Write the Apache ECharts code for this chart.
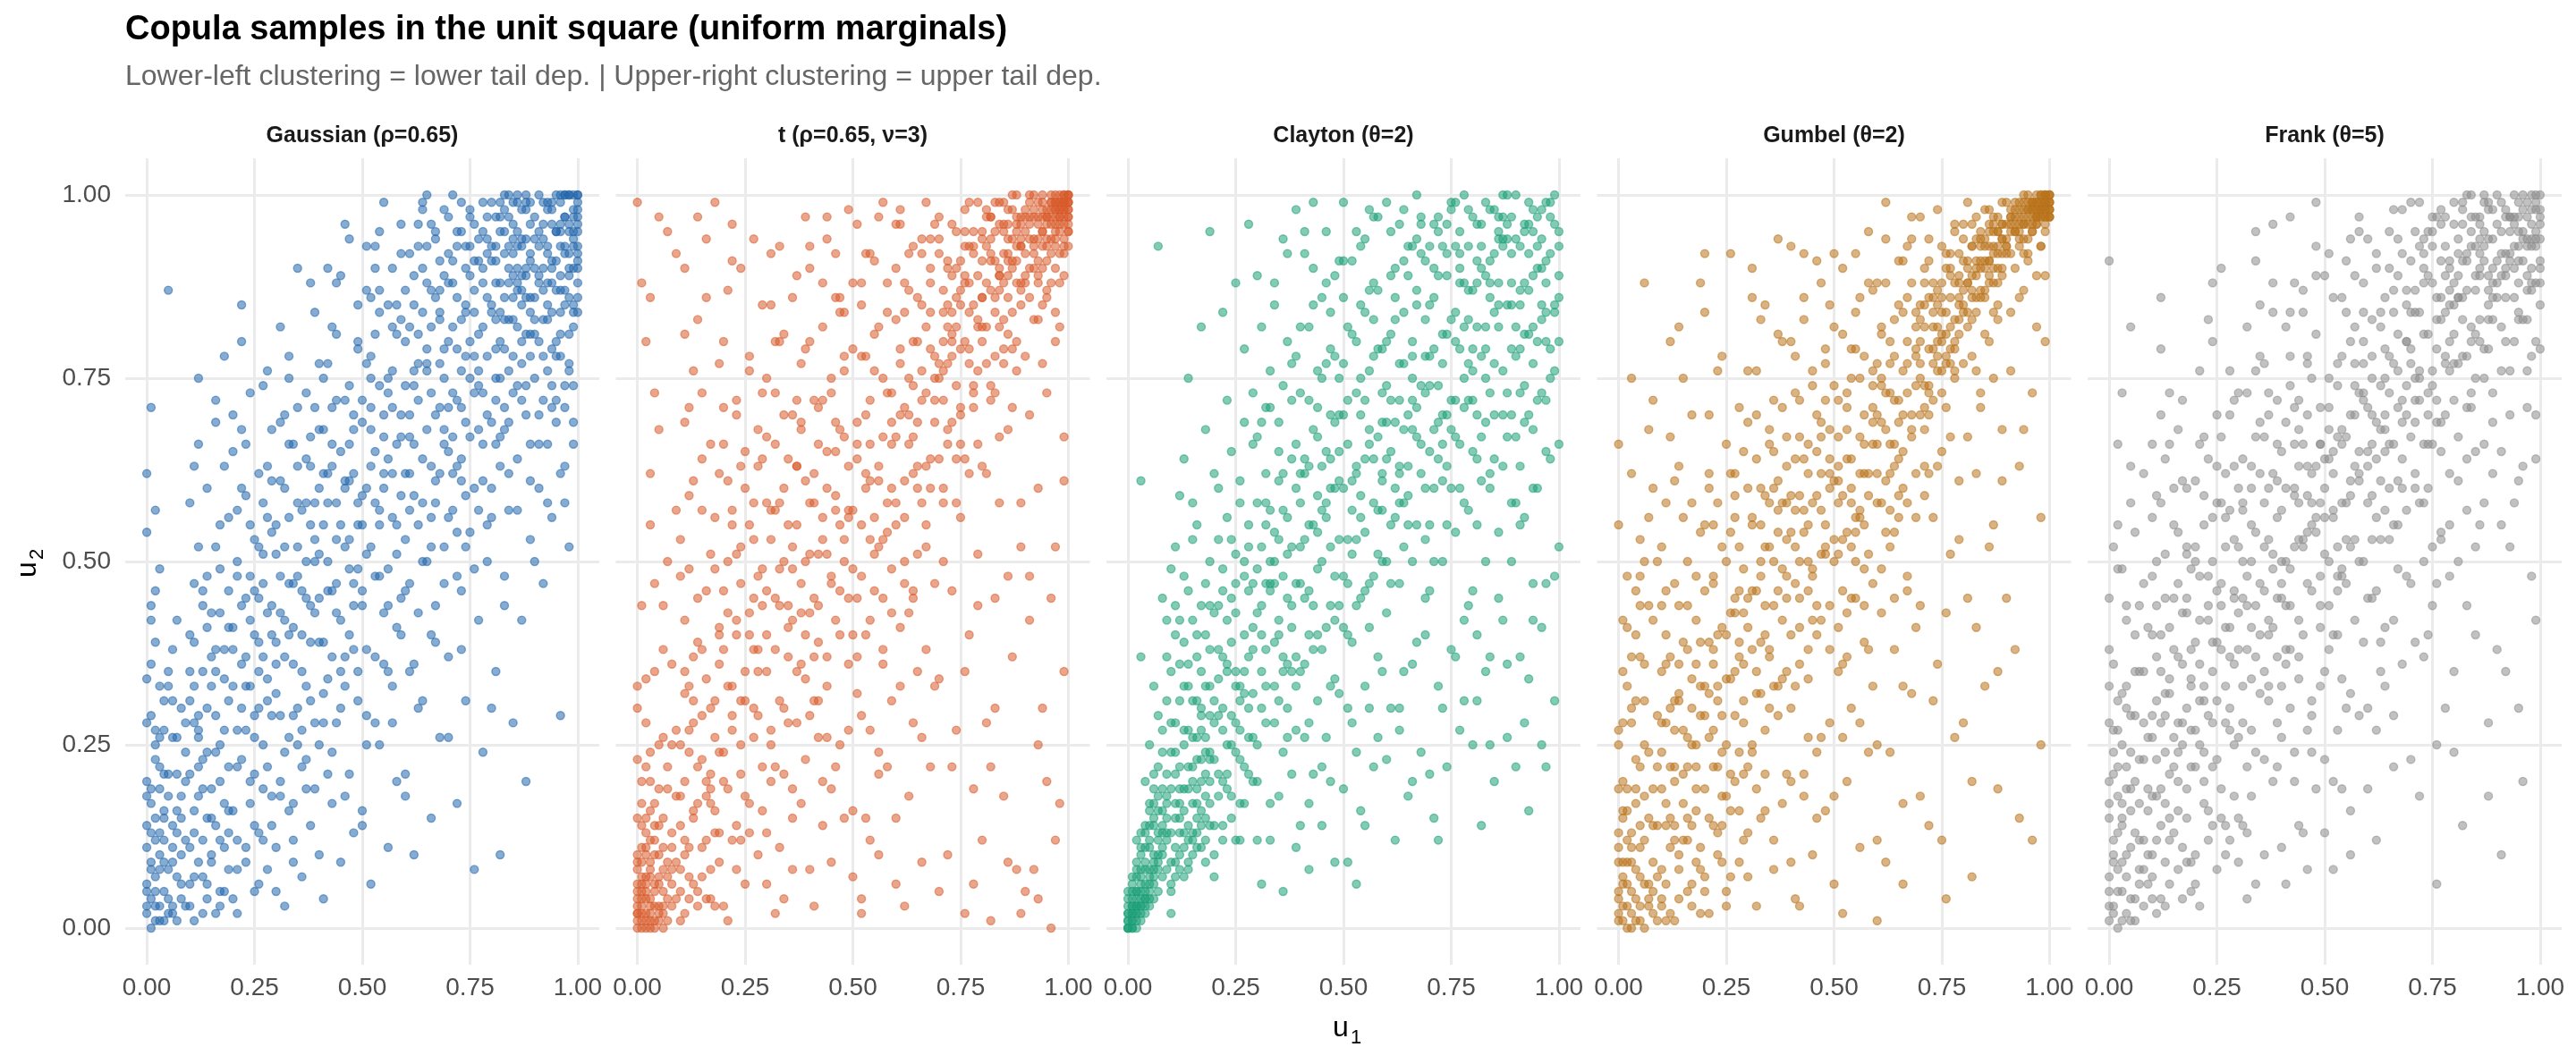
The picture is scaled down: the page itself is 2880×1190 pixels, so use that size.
<!DOCTYPE html>
<html><head><meta charset="utf-8">
<script src="https://cdn.jsdelivr.net/npm/echarts@6/dist/echarts.min.js"></script>
<style>html,body{margin:0;padding:0;background:#fff}#c{width:2880px;height:1190px}</style>
</head><body><div id="c"></div>
<script>
// Values are u1,u2 pairs in hundredths (0..100).
const gaussian = [
[1,0],[0,2],[2,1],[1,4],[3,3],[0,6],[2,7],[4,5],[1,9],[3,10],[5,8],[2,12],[0,14],[6,11],[4,15],[1,17],[7,13],[3,19],[5,21],[2,23],[8,18],[6,26],[0,28],[4,31],[9,24],[1,36],[7,42],[2,46],[0,54],[1,71],[5,87],[3,33],[6,3],[8,6],
[11,1],[14,4],[10,6],[17,3],[12,9],[19,8],[13,12],[16,14],[11,16],[18,11],[15,19],[10,21],[13,23],[17,25],[12,27],[19,22],[14,30],[11,33],[16,35],[18,38],[10,40],[15,43],[13,46],[17,49],[12,52],[19,56],[14,60],[11,63],[16,72],[18,78],
[21,2],[25,5],[28,8],[23,11],[26,13],[20,16],[29,18],[24,20],[22,23],[27,25],[21,27],[25,29],[28,31],[23,33],[26,35],[20,38],[29,40],[24,42],[22,44],[27,47],[21,50],[25,53],[28,56],[23,59],[26,62],[20,65],[29,68],[24,73],[22,80],[27,37],
[32,3],[36,7],[30,11],[38,14],[34,17],[31,20],[37,23],[33,26],[39,28],[35,30],[30,32],[36,35],[32,37],[38,39],[34,41],[31,43],[37,45],[33,47],[39,50],[35,52],[30,55],[36,57],[32,60],[38,63],[34,66],[31,69],[37,73],[33,78],[39,84],[35,90],
[41,4],[45,9],[48,13],[43,17],[47,21],[40,25],[44,28],[49,31],[42,34],[46,37],[41,39],[45,42],[48,44],[43,46],[47,49],[40,51],[44,53],[49,55],[42,58],[46,60],[41,62],[45,65],[48,68],[43,71],[47,74],[40,77],[44,81],[49,85],[42,90],[46,96],
[52,6],[56,11],[50,16],[58,20],[54,25],[51,29],[57,33],[53,37],[59,40],[55,43],[50,46],[56,49],[52,52],[58,55],[54,57],[51,60],[57,62],[53,65],[59,67],[55,70],[50,72],[56,75],[52,78],[58,81],[54,84],[51,87],[57,90],[53,93],[59,96],[55,99],
[62,10],[66,15],[60,21],[68,26],[64,31],[61,35],[67,39],[63,43],[69,47],[65,50],[60,53],[66,56],[62,59],[68,62],[64,64],[61,67],[67,70],[63,72],[69,75],[65,77],[60,80],[66,82],[62,85],[68,87],[64,90],[61,92],[67,94],[63,96],[69,98],[65,100],
[76,8],[72,17],[78,24],[74,31],[70,37],[77,42],[73,46],[79,50],[75,54],[71,57],[76,60],[72,63],[78,66],[74,69],[70,71],[77,74],[73,76],[79,78],[75,80],[71,82],[76,84],[72,86],[78,88],[74,90],[70,92],[77,94],[73,95],[79,97],[75,98],[71,100],
[82,10],[88,20],[85,28],[81,35],[87,42],[83,48],[89,53],[84,57],[80,60],[86,64],[82,67],[88,70],[85,73],[81,75],[87,77],[83,79],[89,81],[84,83],[80,85],[86,87],[82,88],[88,90],[85,92],[81,93],[87,94],[83,95],[89,96],[84,97],[86,99],[88,100],
[96,29],[92,47],[98,52],[94,56],[91,60],[97,63],[93,66],[99,69],[95,72],[90,75],[98,77],[94,79],[96,81],[92,83],[99,85],[97,87],[93,88],[100,90],[95,91],[98,92],[91,93],[99,94],[96,95],[100,96],[97,97],[94,98],[100,99],[98,100],[99,98],[100,100],
[0,3],[2,5],[1,8],[3,1],[4,9],[0,11],[2,15],[5,4],[1,19],[3,13],[6,2],[0,20],[7,7],[2,25],[4,16],[1,29],[8,10],[5,18],[3,22],[6,14],[0,34],[9,3],[2,39],[7,21],[4,27],[1,44],[8,30],[5,33],[3,49],[6,38],[9,12],[0,62],[2,57],[4,1],[7,26],
[10,3],[13,7],[16,2],[12,18],[18,5],[11,13],[15,10],[19,16],[14,24],[17,20],[10,31],[12,26],[16,29],[18,34],[11,39],[13,44],[15,37],[19,41],[14,48],[17,55],[10,58],[12,66],[16,52],[18,63],[11,28],[15,15],[19,46],[13,35],[17,12],[14,6],[16,69],[12,75],
[20,4],[23,9],[26,6],[29,14],[21,22],[24,17],[27,19],[22,30],[25,26],[28,34],[20,41],[23,37],[26,45],[29,29],[21,48],[24,55],[27,51],[22,60],[25,46],[28,63],[20,70],[23,66],[26,39],[29,54],[21,12],[24,33],[27,74],[22,85],[25,21],[28,43],
[30,5],[33,16],[36,22],[39,19],[31,29],[34,36],[37,33],[32,42],[35,48],[38,44],[30,51],[33,56],[36,40],[39,58],[31,61],[34,47],[37,64],[32,70],[35,58],[38,67],[30,36],[33,75],[36,27],[39,53],[31,82],[34,12],[37,50],[32,24],[35,71],[38,88],
[40,10],[43,24],[46,18],[49,35],[41,32],[44,43],[47,40],[42,50],[45,55],[48,47],[40,60],[43,63],[46,52],[49,58],[41,68],[44,72],[47,66],[42,77],[45,35],[48,70],[40,45],[43,82],[46,61],[49,79],[41,28],[44,88],[47,94],[42,62],
[50,14],[53,28],[56,35],[59,45],[51,51],[54,48],[57,56],[52,63],[55,60],[58,66],[50,69],[53,58],[56,73],[59,70],[51,77],[54,74],[57,82],[52,86],[55,67],[58,85],[50,55],[53,90],[56,44],[59,92],[51,38],[54,95],[57,76],[52,71],
[60,18],[63,30],[66,40],[69,52],[61,57],[64,50],[67,61],[62,66],[65,68],[68,71],[60,74],[63,77],[66,73],[69,79],[61,82],[64,84],[67,86],[62,89],[65,79],[68,91],[60,62],[63,93],[66,96],[69,66],[61,47],[64,99],[67,58],[62,76],[65,88],[68,83],
[70,26],[73,38],[76,49],[79,55],[71,62],[74,59],[77,68],[72,72],[75,75],[78,73],[70,80],[73,83],[76,78],[79,86],[71,88],[74,85],[77,91],[72,93],[75,89],[78,95],[70,97],[73,99],[76,96],[79,92],[71,67],[74,78],[77,81],[72,54],[75,93],[78,99],[73,64],[76,87],
[80,30],[83,44],[86,57],[89,61],[81,66],[84,69],[87,72],[82,75],[85,78],[88,81],[80,84],[83,86],[86,88],[89,84],[81,91],[84,90],[87,93],[82,95],[85,96],[88,98],[80,99],[83,100],[86,95],[89,92],[81,79],[84,62],[87,87],[82,97],[85,83],[88,89],[86,100],[89,99],[83,71],[80,93],
[90,50],[93,58],[96,62],[99,66],[91,70],[94,74],[97,71],[92,78],[95,80],[98,76],[90,83],[93,85],[96,87],[99,84],[91,89],[94,91],[97,92],[100,93],[92,94],[95,95],[98,96],[90,97],[93,98],[96,99],[99,97],[100,100],[91,100],[94,99],[97,100],[100,98],[92,90],[95,87],[98,89],[99,95],[100,92],[96,96],[93,93],[97,74],
[0,5],[1,13],[2,3],[3,8],[4,12],[5,2],[6,9],[7,16],[8,4],[9,20],[10,11],[11,7],[12,22],[13,2],[14,15],[15,9],[16,24],[17,5],[18,17],[19,13],[0,18],[2,27],[4,21],[6,31],[8,15],[10,35],[12,29],[14,41],[16,38],[18,27],[1,42],[3,26],[5,35],[7,1],[9,28],[11,47],[13,19],[15,33],[17,43],[19,31],
[21,8],[22,36],[23,27],[24,48],[25,14],[26,30],[27,58],[28,22],[29,44],[20,33],[21,57],[23,45],[25,40],[27,12],[29,61],[31,18],[32,52],[33,40],[34,29],[35,63],[36,46],[37,19],[38,55],[39,71],[30,39],[31,48],[33,66],[35,25],[37,58],[39,43],[22,68],[26,52],[28,76],[34,9],[38,31],
[40,39],[41,55],[42,21],[43,66],[44,47],[45,30],[46,72],[47,53],[48,38],[49,80],[50,59],[51,25],[52,68],[53,48],[54,87],[55,36],[56,64],[57,71],[58,51],[59,83],[40,68],[42,46],[44,58],[46,33],[48,62],[50,44],[52,75],[54,55],[56,85],[58,41],[41,75],[43,37],[45,89],[47,61],[49,49],[51,93],[53,81],[55,62],[57,28],[59,59],
[60,46],[61,70],[62,36],[63,81],[64,58],[65,93],[66,63],[67,44],[68,77],[69,89],[70,56],[71,73],[72,95],[73,61],[74,84],[75,67],[76,91],[77,57],[78,82],[79,70],[60,87],[62,74],[64,98],[66,52],[68,84],[70,65],[72,79],[74,52],[76,73],[78,90],[61,62],[63,55],[65,76],[67,95],[69,68],[71,91],[73,71],[75,97],[77,76],[79,94],[66,87],[70,88],[74,93],[78,61],[72,48],
[80,69],[81,88],[82,80],[83,92],[84,76],[85,89],[86,82],[87,98],[88,74],[89,91],[90,86],[91,80],[92,96],[93,83],[94,90],[95,78],[96,93],[97,85],[98,95],[99,82],[100,97],[80,91],[81,97],[82,84],[83,68],[84,100],[85,86],[86,93],[87,80],[88,94],[89,86],[90,94],[91,88],[92,72],[93,99],[94,84],[95,95],[96,89],[97,100],[98,86],[99,93],[100,88],[80,56],[82,99],[84,88],[86,74],[88,99],[90,90],[92,87],[94,96],[96,84],[98,100],[100,95],[81,72],[83,83],[85,99],[87,89],[89,78],[91,95],[93,92],[95,100],[97,93],[99,90],[100,84],[82,63],[86,90],[90,81],[94,88],[98,81],[100,91],[96,100],[92,99],[88,86],[84,93],[97,97],[99,100],[93,76],[91,66],[95,69],[97,58],[99,74],[89,66],[85,94],[87,85],[83,98],[81,83],[98,90],[96,78],[94,71],[100,86]
];
const tCopula = [
[0,0],[1,1],[0,2],[2,0],[1,3],[3,2],[0,4],[2,5],[4,1],[1,6],[3,7],[5,3],[0,8],[2,10],[6,5],[4,12],[1,14],[7,9],[3,16],[5,19],[8,13],[2,22],[6,26],[0,30],[9,18],[4,35],[1,44],[7,50],[3,62],[1,88],[5,97],[0,99],[8,3],[6,0],
[11,2],[14,5],[10,8],[17,4],[12,11],[19,13],[13,15],[16,18],[11,20],[18,16],[15,23],[10,25],[13,28],[17,30],[12,33],[19,36],[14,39],[11,42],[16,46],[18,49],[10,53],[15,57],[13,61],[17,66],[12,71],[19,77],[14,83],[11,90],[16,94],[18,99],
[21,1],[25,6],[28,10],[23,14],[26,17],[20,20],[29,22],[24,25],[22,27],[27,30],[21,33],[25,35],[28,38],[23,40],[26,43],[20,46],[29,49],[24,52],[22,55],[27,58],[21,61],[25,65],[28,68],[23,72],[26,76],[20,80],[29,85],[24,90],[22,96],[27,45],
[32,2],[36,8],[30,13],[38,17],[34,21],[31,25],[37,28],[33,31],[39,34],[35,37],[30,40],[36,42],[32,45],[38,47],[34,50],[31,53],[37,55],[33,58],[39,61],[35,64],[30,67],[36,70],[32,73],[38,77],[34,81],[31,85],[37,89],[33,93],[39,97],[35,44],
[41,3],[45,9],[48,15],[43,20],[47,25],[40,29],[44,33],[49,36],[42,39],[46,42],[41,45],[45,48],[48,50],[43,53],[47,55],[40,58],[44,60],[49,63],[42,66],[46,69],[41,72],[45,75],[48,78],[43,82],[47,86],[40,90],[44,94],[49,98],[42,51],[46,57],
[52,4],[56,10],[50,16],[58,22],[54,27],[51,32],[57,36],[53,40],[59,43],[55,46],[50,49],[56,52],[52,55],[58,58],[54,61],[51,64],[57,67],[53,70],[59,73],[55,76],[50,79],[56,82],[52,85],[58,88],[54,92],[51,96],[57,99],[53,62],[59,69],[55,56],
[62,3],[66,9],[60,15],[68,22],[64,28],[61,33],[67,38],[63,43],[69,47],[65,51],[60,55],[66,58],[62,61],[68,64],[64,67],[61,70],[67,73],[63,75],[69,78],[65,80],[60,83],[66,85],[62,88],[68,90],[64,93],[61,96],[67,99],[63,66],[69,72],[65,60],
[76,2],[72,10],[78,19],[74,27],[70,34],[77,40],[73,46],[79,51],[75,56],[71,60],[76,64],[72,68],[78,71],[74,74],[70,77],[77,79],[73,81],[79,83],[75,85],[71,87],[76,89],[72,91],[78,93],[74,95],[70,97],[77,99],[73,84],[79,76],[75,66],[71,80],
[82,1],[88,8],[85,18],[81,28],[87,37],[83,45],[89,52],[84,58],[80,63],[86,68],[82,72],[88,76],[85,79],[81,82],[87,84],[83,86],[89,88],[84,90],[80,91],[86,92],[82,94],[88,95],[85,96],[81,97],[87,98],[83,99],[89,93],[84,87],[86,81],[88,100],
[96,0],[92,8],[98,17],[94,30],[91,42],[97,52],[93,60],[99,67],[95,73],[90,78],[98,82],[94,85],[96,88],[92,90],[99,92],[97,93],[93,94],[100,95],[95,96],[98,97],[91,97],[99,98],[96,98],[100,99],[97,99],[94,100],[100,100],[98,99],[99,100],[100,98],[93,89],[97,95],
[0,1],[1,0],[2,2],[0,3],[3,0],[1,5],[2,4],[4,3],[0,6],[1,2],[3,4],[5,1],[2,7],[0,9],[4,6],[6,2],[1,11],[3,9],[5,7],[7,4],[2,13],[0,15],[4,17],[6,11],[8,6],[1,20],[3,24],[5,14],[7,19],[9,9],[2,28],[0,33],[6,38],[4,47],[8,25],[3,55],[2,80],[9,92],
[10,1],[12,4],[15,7],[18,3],[11,10],[13,6],[16,12],[19,9],[14,17],[17,21],[10,14],[12,24],[15,29],[18,26],[11,32],[13,37],[16,34],[19,40],[14,45],[17,51],[10,48],[12,59],[15,64],[18,56],[11,69],[13,76],[16,86],[19,62],[14,97],[17,19],
[20,3],[23,8],[26,13],[29,16],[21,19],[24,21],[27,26],[22,29],[25,31],[28,35],[20,38],[23,42],[26,40],[29,44],[21,50],[24,47],[27,53],[22,57],[25,60],[28,63],[20,66],[23,70],[26,78],[29,73],[21,87],[24,12],[27,94],[22,33],
[30,6],[33,11],[36,19],[39,23],[31,27],[34,30],[37,35],[32,38],[35,41],[38,43],[30,46],[33,49],[36,52],[39,50],[31,57],[34,60],[37,63],[32,66],[35,55],[38,69],[30,75],[33,80],[36,86],[39,40],[31,92],[34,4],[37,72],[32,22],
[40,8],[43,14],[46,22],[49,27],[41,31],[44,37],[47,40],[42,44],[45,47],[48,53],[40,51],[43,56],[46,59],[49,57],[41,62],[44,65],[47,68],[42,71],[45,73],[48,76],[40,80],[43,88],[46,92],[49,45],[41,37],[44,97],[47,84],[42,26],
[50,7],[53,15],[56,24],[59,31],[51,37],[54,42],[57,45],[52,48],[55,51],[58,54],[50,57],[53,60],[56,63],[59,66],[51,69],[54,72],[57,75],[52,78],[55,81],[58,84],[50,88],[53,92],[56,97],[59,60],[51,45],[54,66],[57,53],[52,2],
[60,6],[63,18],[66,26],[69,33],[61,41],[64,46],[67,52],[62,56],[65,63],[68,60],[60,67],[63,70],[66,72],[69,75],[61,77],[64,80],[67,82],[62,84],[65,86],[68,88],[60,90],[63,92],[66,94],[69,96],[61,98],[64,74],[67,63],[62,50],[65,69],[68,79],
[70,5],[73,22],[76,35],[79,44],[71,50],[74,58],[77,62],[72,66],[75,70],[78,73],[70,75],[73,78],[76,80],[79,82],[71,84],[74,86],[77,88],[72,90],[75,91],[78,92],[70,94],[73,96],[76,98],[79,99],[71,72],[74,64],[77,77],[72,82],[75,87],[78,95],[73,89],[76,93],
[80,12],[83,30],[86,48],[89,58],[81,62],[84,67],[87,71],[82,74],[85,77],[88,80],[80,82],[83,84],[86,86],[89,87],[81,88],[84,89],[87,90],[82,91],[85,92],[88,93],[80,94],[83,95],[86,96],[89,97],[81,98],[84,99],[87,100],[82,97],[85,99],[88,96],[86,91],[89,94],[83,78],[80,86],
[90,5],[93,25],[96,45],[99,61],[91,70],[94,77],[97,80],[92,83],[95,86],[98,88],[90,89],[93,91],[96,92],[99,93],[91,94],[94,95],[97,96],[100,96],[92,97],[95,97],[98,98],[90,98],[93,99],[96,99],[99,99],[100,100],[91,100],[94,99],[97,100],[100,99],[92,93],[95,94],[98,95],[99,97],[100,97],[96,97],[97,98],[98,100],[99,99],[94,90],
[0,2],[1,4],[2,1],[3,3],[0,5],[1,7],[2,6],[3,1],[4,5],[5,2],[0,10],[1,9],[2,11],[3,8],[4,10],[5,6],[6,3],[7,1],[6,8],[4,0],[2,15],[3,12],[5,10],[7,7],[8,11],[9,4],[1,17],[4,14],[6,15],[8,8],[10,5],[11,12],[12,7],[13,16],[14,3],[15,11],[16,20],[17,8],[18,13],[19,24],[10,18],[12,27],[14,22],[16,4],[18,31],[3,20],[5,25],[7,22],[9,27],[11,35],[13,31],[15,38],[17,17],[19,41],[0,23],[2,34],[6,44],[8,36],[12,49],[4,73],
[20,24],[21,43],[22,12],[23,51],[24,31],[25,18],[26,55],[27,38],[28,29],[29,64],[30,35],[31,20],[32,57],[33,44],[34,70],[35,28],[36,49],[37,63],[38,36],[39,79],[40,43],[41,58],[42,31],[43,72],[44,51],[45,19],[46,65],[47,46],[48,84],[49,56],[50,40],[51,66],[52,29],[53,78],[54,53],[55,91],[56,61],[57,38],[58,73],[59,49],[60,58],[61,79],[62,47],[63,87],[64,62],[65,35],[66,76],[67,55],[68,94],[69,69],[20,71],[24,63],[28,48],[32,80],[36,15],[40,93],[44,26],[48,67],[52,88],[56,21],[60,96],[64,45],[68,84],[22,91],[30,58],[38,68],[46,86],[54,12],[62,71],[66,92],
[70,64],[71,76],[72,85],[73,69],[74,90],[75,79],[76,95],[77,84],[78,74],[79,89],[80,80],[81,93],[82,87],[83,91],[84,82],[85,95],[86,89],[87,94],[88,88],[89,96],[90,92],[91,96],[92,94],[93,97],[94,93],[95,98],[96,96],[97,97],[98,99],[99,98],[100,99],[90,95],[91,99],[92,98],[93,96],[94,98],[95,97],[96,100],[97,99],[98,96],[99,100],[100,98],[92,92],[95,93],[97,94],[99,96],[100,97],[88,97],[86,98],[84,96],[82,92],[80,86],[85,88],[87,91],[89,93],[91,90],[93,88],[95,91],[97,90],[99,94],[100,93],[98,92],[96,94],[94,95],[90,88],[88,91],[86,94],[84,89],[82,97],[80,95],[78,85],[76,88],[74,82],[72,77],[70,92],[71,58],[73,80],[75,71],[77,93],[79,66],[81,77],[83,73],[85,83],[87,79],[89,85],[91,86],[93,83],[95,87],[97,84],[99,89],[100,95],[98,97],[96,99],[94,97],[92,100],[90,97],[99,99],[98,98],[97,98],[100,100],
[3,86],[7,95],[11,81],[5,68],[9,57],[93,4],[97,12],[89,2],[95,20],[86,9],[99,35],[78,6],[82,22],[91,48],[15,73]
];
const clayton = [
[0,0],[1,1],[0,2],[1,0],[2,2],[1,3],[2,4],[3,3],[0,5],[3,6],[4,4],[2,7],[4,8],[5,6],[3,10],[5,11],[6,8],[4,13],[6,14],[7,10],[5,16],[7,18],[8,13],[6,21],[8,24],[9,17],[7,29],[9,37],[8,45],[7,93],[3,61],[3,37],
[10,5],[12,8],[11,11],[14,9],[13,13],[15,12],[16,15],[12,17],[17,14],[14,19],[18,18],[11,21],[15,22],[19,20],[13,25],[16,26],[18,24],[10,28],[17,30],[14,33],[19,29],[12,36],[16,40],[11,44],[18,47],[15,53],[13,64],[17,82],[19,95],[10,2],
[20,7],[22,12],[24,15],[21,18],[26,17],[23,21],[27,22],[25,24],[29,20],[22,27],[28,26],[24,29],[20,31],[26,33],[23,35],[29,32],[21,38],[27,40],[25,43],[28,46],[22,49],[24,53],[26,58],[20,62],[29,66],[23,72],[27,79],[25,88],[28,96],[21,44],
[31,6],[33,12],[35,18],[38,21],[30,25],[34,28],[37,30],[32,33],[36,35],[39,37],[31,40],[35,42],[38,44],[33,47],[30,49],[37,51],[34,54],[36,57],[39,60],[32,62],[35,65],[31,69],[38,72],[33,76],[37,80],[34,85],[30,89],[36,94],[39,98],[32,55],
[42,8],[45,14],[47,20],[41,26],[44,31],[48,34],[43,38],[46,41],[49,44],[40,47],[44,49],[47,52],[42,55],[45,57],[48,60],[41,62],[46,65],[43,68],[49,70],[40,73],[44,76],[47,79],[42,82],[45,86],[48,89],[41,92],[46,95],[43,99],[49,53],[40,58],
[51,9],[54,16],[57,22],[52,28],[55,33],[58,37],[50,41],[53,44],[56,47],[59,50],[51,53],[54,56],[57,58],[52,61],[55,64],[58,67],[50,70],[53,73],[56,76],[59,79],[51,82],[54,85],[57,88],[52,91],[55,94],[58,97],[50,99],[53,62],[56,68],[59,57],
[62,12],[65,18],[68,24],[61,30],[64,35],[67,39],[60,43],[63,47],[66,50],[69,53],[62,56],[65,59],[68,62],[61,65],[64,68],[67,71],[60,74],[63,77],[66,80],[69,83],[62,86],[65,89],[68,92],[61,95],[64,98],[67,100],[60,64],[63,58],[66,72],[69,45],
[71,15],[74,22],[77,27],[72,33],[75,38],[78,42],[70,46],[73,50],[76,54],[79,57],[71,60],[74,63],[77,66],[72,69],[75,72],[78,75],[70,78],[73,81],[76,84],[79,87],[71,90],[74,92],[77,95],[72,97],[75,99],[78,88],[70,65],[73,70],[76,93],[79,77],
[82,14],[85,20],[88,26],[81,31],[84,37],[87,42],[80,46],[83,50],[86,54],[89,58],[82,61],[85,64],[88,67],[81,70],[84,73],[87,76],[80,79],[83,82],[86,85],[89,88],[82,90],[85,92],[88,94],[81,96],[84,98],[87,100],[80,87],[83,75],[86,94],[89,97],
[93,16],[96,25],[99,31],[91,37],[94,42],[97,47],[100,52],[92,56],[95,60],[98,64],[90,67],[93,70],[96,73],[99,76],[91,79],[94,82],[97,84],[100,86],[92,88],[95,90],[98,92],[90,94],[93,96],[96,98],[99,100],[91,85],[94,77],[97,99],[100,95],[92,81],
[0,1],[1,0],[0,0],[1,2],[2,1],[0,3],[2,3],[1,4],[3,2],[3,4],[2,5],[4,3],[1,6],[4,5],[3,7],[5,4],[2,8],[5,7],[4,9],[6,6],[3,11],[6,9],[5,12],[7,8],[4,14],[7,12],[6,15],[8,10],[5,17],[8,14],[7,16],[9,12],[6,19],[9,15],[8,19],[7,22],[9,21],[8,27],[5,25],[9,31],[6,33],[4,20],[9,42],[2,12],[10,49],
[10,6],[11,9],[13,7],[12,13],[14,12],[15,10],[16,13],[11,15],[17,11],[13,16],[18,15],[12,19],[15,17],[19,14],[14,22],[16,19],[18,21],[10,24],[17,23],[13,27],[19,24],[11,28],[15,26],[17,27],[12,31],[16,31],[18,33],[14,36],[19,38],[11,40],[15,42],[17,44],[13,48],[19,50],[16,55],[12,59],[18,68],[14,75],
[20,10],[22,14],[25,12],[27,17],[21,21],[23,19],[26,23],[28,21],[24,25],[29,26],[20,28],[22,30],[25,28],[27,32],[21,34],[23,36],[26,31],[28,37],[24,39],[29,41],[20,43],[22,46],[25,47],[27,50],[21,53],[23,56],[26,61],[28,52],[24,65],[29,73],[22,84],[27,69],[25,35],
[30,12],[33,17],[36,24],[39,27],[31,30],[34,33],[37,36],[32,38],[35,40],[38,41],[30,43],[33,46],[36,48],[39,47],[31,52],[34,50],[37,56],[32,58],[35,61],[38,64],[30,67],[33,71],[36,74],[39,78],[31,82],[34,88],[37,92],[32,47],[35,53],[38,35],
[40,14],[43,21],[46,26],[49,32],[41,36],[44,40],[47,44],[42,46],[45,50],[48,48],[40,52],[43,55],[46,58],[49,61],[41,64],[44,67],[47,70],[42,72],[45,75],[48,78],[40,82],[43,85],[46,88],[49,91],[41,95],[44,59],[47,64],[42,40],
[50,19],[53,24],[56,30],[59,35],[51,40],[54,45],[57,48],[52,51],[55,54],[58,57],[50,60],[53,63],[56,66],[59,69],[51,72],[54,75],[57,78],[52,81],[55,84],[58,87],[50,91],[53,95],[56,98],[59,62],[51,47],[54,70],[57,83],
[60,23],[63,30],[66,36],[69,40],[61,47],[64,52],[67,55],[62,60],[65,63],[68,66],[60,69],[63,72],[66,75],[69,78],[61,81],[64,84],[67,87],[62,90],[65,93],[68,96],[60,99],[63,62],[66,68],[69,73],[61,55],[64,77],[67,94],
[70,21],[73,30],[76,37],[79,44],[71,50],[74,55],[77,60],[72,64],[75,68],[78,71],[70,74],[73,77],[76,80],[79,83],[71,86],[74,89],[77,92],[72,95],[75,98],[78,100],[70,85],[73,66],[76,72],[79,93],[71,96],[74,81],[77,88],
[80,25],[83,35],[86,45],[89,50],[81,55],[84,60],[87,63],[82,67],[85,70],[88,73],[80,76],[83,79],[86,82],[89,85],[81,88],[84,91],[87,93],[82,96],[85,98],[88,100],[80,72],[83,89],[86,95],[89,79],[81,64],[84,86],[87,97],
[90,22],[93,34],[96,41],[99,48],[91,55],[94,60],[97,65],[92,69],[95,72],[98,75],[90,78],[93,81],[96,83],[99,85],[91,87],[94,89],[97,91],[100,93],[92,95],[95,97],[98,99],[90,100],[93,92],[96,94],[99,96],[100,89],[91,73],[94,98],[97,80],[100,66],
[0,0],[0,1],[1,1],[1,2],[2,0],[2,2],[0,2],[1,3],[2,3],[3,1],[3,3],[1,5],[2,5],[3,5],[4,2],[4,4],[4,6],[5,3],[5,5],[5,8],[6,4],[6,7],[6,10],[7,5],[7,9],[7,13],[8,7],[8,11],[8,16],[9,8],[9,13],[9,18],[3,8],[4,11],[5,14],[6,17],[2,9],[1,7],[0,4],[3,13],
[10,9],[10,13],[11,7],[11,17],[12,10],[12,22],[13,11],[13,19],[14,14],[14,27],[15,13],[15,20],[16,11],[16,23],[17,16],[17,29],[18,12],[18,26],[19,17],[19,33],[10,19],[11,24],[12,15],[13,33],[14,8],[15,31],[16,37],[17,20],[18,40],[19,23],[10,35],[12,42],[14,46],[16,17],[18,9],[11,52],[13,39],[15,58],[17,35],[19,44],
[20,14],[21,29],[22,20],[23,42],[24,18],[25,33],[26,27],[27,48],[28,30],[29,38],[20,23],[22,37],[24,45],[26,12],[28,55],[21,60],[23,25],[25,51],[27,35],[29,47],[30,20],[31,44],[32,28],[33,57],[34,39],[35,31],[36,62],[37,45],[38,52],[39,33],[30,58],[32,71],[34,47],[36,37],[38,77],[31,35],[33,50],[35,69],[37,26],[39,66],
[40,35],[41,53],[42,63],[43,44],[44,71],[45,38],[46,56],[47,84],[48,42],[49,65],[40,62],[42,28],[44,54],[46,77],[48,69],[41,45],[43,90],[45,63],[47,33],[49,75],[50,48],[51,66],[52,39],[53,80],[54,59],[55,46],[56,87],[57,64],[58,51],[59,73],[50,77],[52,57],[54,93],[56,41],[58,79],[51,30],[53,53],[55,72],[57,97],[59,61],[45,22],[55,14],[48,9],[53,6],[58,26],[42,17],[39,11],[36,5],[47,60],[50,86],
[60,50],[61,72],[62,83],[63,63],[64,91],[65,55],[66,78],[67,67],[68,97],[69,60],[60,80],[62,69],[64,58],[66,93],[68,74],[61,89],[63,96],[65,70],[67,85],[69,91],[70,55],[71,79],[72,89],[73,61],[74,96],[75,83],[76,67],[77,90],[78,58],[79,98],[70,93],[72,74],[74,70],[76,99],[78,82],[71,68],[73,93],[75,60],[77,79],[79,72],
[80,65],[81,82],[82,93],[83,69],[84,88],[85,77],[86,97],[87,70],[88,85],[89,92],[80,97],[82,78],[84,62],[86,88],[88,96],[81,91],[83,99],[85,84],[87,94],[89,70],[90,82],[91,93],[92,74],[93,87],[94,95],[95,80],[96,90],[97,72],[98,97],[99,84],[90,58],[92,96],[94,68],[96,85],[98,79],[91,63],[93,99],[95,93],[97,88],[100,80],
[66,20],[72,12],[78,31],[84,25],[88,36],[92,28],[97,22],[81,40],[63,27],[94,47]
];
const gumbel = [
[0,1],[1,3],[2,0],[0,5],[3,2],[1,7],[4,4],[2,9],[5,1],[0,11],[3,13],[6,6],[1,15],[4,17],[7,3],[2,19],[5,22],[8,9],[0,25],[3,28],[6,31],[9,14],[1,35],[4,40],[7,44],[2,48],[5,53],[8,60],[0,66],[3,75],
[11,1],[14,4],[10,8],[17,6],[12,11],[19,2],[13,14],[16,12],[11,17],[18,19],[15,21],[10,24],[13,27],[17,25],[12,30],[19,33],[14,36],[11,40],[16,44],[18,48],[10,52],[15,56],[13,61],[17,70],[12,80],[19,88],[14,32],[16,22],[18,9],[11,46],
[21,2],[25,5],[28,9],[23,13],[26,16],[20,19],[29,21],[24,24],[22,27],[27,29],[21,32],[25,34],[28,37],[23,40],[26,43],[20,46],[29,49],[24,52],[22,55],[27,59],[21,62],[25,66],[28,71],[23,76],[26,92],[20,84],[29,28],[24,14],[22,38],[27,45],
[32,3],[36,8],[30,13],[38,17],[34,21],[31,25],[37,29],[33,32],[39,35],[35,38],[30,41],[36,44],[32,46],[38,49],[34,52],[31,55],[37,57],[33,60],[39,63],[35,66],[30,69],[36,72],[32,76],[38,80],[34,85],[31,90],[37,94],[33,50],[39,45],[35,58],
[41,4],[45,10],[48,16],[43,21],[47,26],[40,30],[44,34],[49,38],[42,41],[46,44],[41,47],[45,49],[48,52],[43,54],[47,57],[40,59],[44,62],[49,64],[42,67],[46,70],[41,73],[45,76],[48,79],[43,83],[47,88],[40,93],[44,55],[49,60],[42,50],[46,65],
[52,2],[56,11],[50,18],[58,24],[54,30],[51,35],[57,39],[53,43],[59,47],[55,50],[50,53],[56,56],[52,59],[58,62],[54,64],[51,67],[57,70],[53,73],[59,76],[55,79],[50,82],[56,86],[52,90],[58,95],[54,58],[51,61],[57,66],[53,54],[59,71],[55,45],
[62,9],[66,17],[60,25],[68,32],[64,38],[61,43],[67,48],[63,52],[69,56],[65,59],[60,62],[66,65],[62,68],[68,70],[64,72],[61,75],[67,77],[63,80],[69,82],[65,85],[60,88],[66,91],[62,94],[68,97],[64,66],[61,58],[67,73],[63,62],[69,78],[65,69],
[76,4],[72,14],[78,26],[74,36],[70,44],[77,51],[73,56],[79,61],[75,65],[71,68],[76,71],[72,74],[78,76],[74,78],[70,80],[77,82],[73,84],[79,86],[75,88],[71,90],[76,92],[72,94],[78,96],[74,98],[70,85],[77,79],[73,72],[79,89],[75,81],[71,63],
[82,7],[88,19],[85,33],[81,45],[87,55],[83,62],[89,68],[84,73],[80,77],[86,80],[82,83],[88,85],[85,87],[81,88],[87,90],[83,91],[89,92],[84,93],[80,94],[86,95],[82,96],[88,97],[85,98],[81,99],[87,96],[83,89],[89,94],[84,86],[86,91],[88,93],
[96,12],[92,38],[98,56],[94,68],[91,76],[97,82],[93,86],[99,89],[95,91],[90,92],[98,93],[94,94],[96,95],[92,95],[99,96],[97,96],[93,97],[100,97],[95,98],[98,98],[91,97],[99,99],[96,99],[100,99],[97,100],[94,98],[100,100],[98,100],[99,97],[100,98],[97,97],[99,100],[98,25],
[1,1],[0,4],[3,0],[2,6],[5,3],[1,9],[4,8],[6,0],[0,13],[3,11],[7,6],[2,16],[5,14],[8,2],[1,20],[4,23],[6,18],[9,7],[0,27],[3,30],[7,24],[2,33],[5,37],[8,19],[1,42],[4,46],[6,50],[9,29],[0,55],[3,62],[7,68],[5,44],
[10,3],[13,1],[16,5],[19,8],[11,6],[14,10],[17,14],[12,15],[15,17],[18,22],[10,19],[13,22],[16,26],[19,29],[11,28],[14,31],[17,34],[12,37],[15,39],[18,42],[10,44],[13,47],[16,50],[19,54],[11,58],[14,63],[17,58],[12,67],[15,75],[18,36],[10,35],[13,12],
[20,5],[23,10],[26,7],[29,12],[21,15],[24,18],[27,20],[22,22],[25,25],[28,24],[20,29],[23,31],[26,34],[29,36],[21,39],[24,41],[27,43],[22,47],[25,50],[28,52],[20,55],[23,58],[26,62],[29,65],[21,70],[24,78],[27,56],[22,36],[25,3],[28,46],
[30,7],[33,15],[36,12],[39,21],[31,24],[34,27],[37,33],[32,35],[35,37],[38,42],[30,45],[33,48],[36,50],[39,53],[31,56],[34,59],[37,61],[32,64],[35,68],[38,71],[30,76],[33,83],[36,65],[39,58],[31,38],[34,44],[37,54],[32,19],
[40,9],[43,18],[46,24],[49,28],[41,33],[44,38],[47,42],[42,45],[45,48],[48,51],[40,54],[43,57],[46,59],[49,62],[41,64],[44,66],[47,69],[42,72],[45,74],[48,77],[40,80],[43,86],[46,91],[49,68],[41,57],[44,50],[47,62],[42,3],
[50,6],[53,20],[56,28],[59,33],[51,41],[54,45],[57,49],[52,53],[55,56],[58,59],[50,61],[53,64],[56,67],[59,69],[51,72],[54,75],[57,78],[52,81],[55,84],[58,88],[50,92],[53,68],[56,62],[59,74],[51,58],[54,52],[57,44],[52,36],
[60,12],[63,24],[66,33],[69,41],[61,49],[64,54],[67,58],[62,61],[65,64],[68,67],[60,70],[63,73],[66,76],[69,79],[61,81],[64,83],[67,86],[62,88],[65,91],[68,94],[60,66],[63,57],[66,70],[69,84],[61,74],[64,78],[67,46],[62,99],
[70,18],[73,31],[76,43],[79,53],[71,59],[74,63],[77,67],[72,70],[75,73],[78,75],[70,77],[73,79],[76,81],[79,83],[71,85],[74,87],[77,89],[72,91],[75,93],[78,95],[70,97],[73,86],[76,77],[79,88],[71,71],[74,82],[77,92],[72,62],[75,84],[78,80],
[80,28],[83,41],[86,52],[89,61],[81,67],[84,71],[87,75],[82,78],[85,81],[88,83],[80,85],[83,86],[86,88],[89,89],[81,90],[84,91],[87,92],[82,93],[85,94],[88,95],[80,96],[83,97],[86,98],[89,99],[81,84],[84,95],[87,97],[82,87],[85,90],[88,88],[86,93],[89,96],[83,76],[87,84],
[90,45],[93,63],[96,73],[99,80],[91,84],[94,87],[97,89],[92,90],[95,92],[98,93],[90,93],[93,94],[96,95],[99,95],[91,96],[94,96],[97,97],[100,97],[92,97],[95,98],[98,98],[90,99],[93,99],[96,99],[99,99],[100,100],[91,98],[94,100],[97,99],[100,98],[92,99],[95,100],[98,97],[99,98],[100,99],[96,98],[97,98],[98,99],[99,100],[94,92],
[0,2],[1,6],[2,3],[3,9],[4,1],[5,7],[6,12],[7,4],[8,14],[9,1],[0,9],[1,16],[2,12],[3,5],[4,19],[5,11],[6,25],[7,15],[8,5],[9,22],[10,4],[11,14],[12,2],[13,20],[14,8],[15,27],[16,15],[17,3],[18,25],[19,11],[10,28],[11,36],[12,22],[13,31],[14,44],[15,12],[16,38],[17,30],[18,16],[19,39],[20,7],[21,26],[22,14],[23,33],[24,9],[25,40],[26,21],[27,35],[28,16],[29,43],[0,19],[1,28],[2,41],[3,37],[4,31],[5,48],[6,36],[7,56],[8,42],[9,50],[20,33],[22,48],[24,29],[26,54],[28,39],[21,60],[23,22],[25,18],[27,62],[29,31],
[30,22],[31,46],[32,32],[33,55],[34,40],[35,30],[36,60],[37,46],[38,34],[39,67],[40,40],[41,52],[42,36],[43,64],[44,46],[45,58],[46,40],[47,67],[48,55],[49,44],[50,50],[51,63],[52,46],[53,71],[54,60],[55,54],[56,75],[57,62],[58,51],[59,66],[60,58],[61,69],[62,54],[63,77],[64,63],[65,72],[66,60],[67,80],[68,68],[69,74],[30,60],[33,39],[36,33],[39,48],[42,59],[45,42],[48,72],[51,51],[54,79],[57,55],[60,77],[63,66],[66,84],[69,62],[32,70],[35,52],[38,58],[41,78],[44,26],[47,51],[50,74],[53,37],[56,57],[59,87],[62,73],[65,56],[68,88],[34,16],[40,20],[46,15],[52,26],[58,38],[64,45],[31,86],[37,81],[43,92],[49,85],[55,92],[61,82],[67,93],
[70,75],[71,82],[72,79],[73,88],[74,80],[75,86],[76,84],[77,90],[78,83],[79,92],[80,87],[81,91],[82,89],[83,94],[84,90],[85,93],[86,91],[87,95],[88,92],[89,96],[90,94],[91,95],[92,96],[93,96],[94,97],[95,96],[96,97],[97,98],[98,99],[99,99],[100,100],[90,96],[91,97],[92,98],[93,98],[94,99],[95,99],[96,98],[97,99],[98,98],[99,98],[100,99],[89,94],[88,95],[87,93],[86,96],[85,91],[84,94],[83,90],[82,93],[81,88],[80,91],[79,85],[78,88],[77,86],[76,90],[75,80],[74,85],[73,82],[72,86],[71,88],[70,83],[93,95],[95,97],[97,97],[99,100],[100,98],[98,100],[96,99],[94,96],[92,95],[90,93],[88,90],[86,89],[84,87],[82,86],[80,84],[78,79],[76,78],[74,76],[72,73],[70,70],[91,92],[93,93],[95,94],[97,96],[99,97],[100,97],[96,96],[98,97],[85,86],[87,88],[89,90],[83,84],[81,82],[79,81],[77,77],[75,76],[73,77],[71,74],
[75,12],[82,20],[88,35],[93,15],[66,6],[60,1],[8,72],[14,82],[6,88],[20,92]
];
const frank = [
[0,1],[1,3],[2,0],[3,5],[0,7],[4,2],[1,9],[5,11],[2,13],[6,4],[3,15],[7,8],[0,17],[4,19],[8,12],[1,21],[5,24],[9,6],[2,27],[6,29],[3,32],[7,35],[0,38],[4,42],[8,47],[1,52],[5,58],[9,26],[2,66],[0,91],
[11,2],[14,6],[10,10],[17,4],[12,14],[19,9],[13,17],[16,20],[11,23],[18,15],[15,26],[10,29],[13,32],[17,28],[12,35],[19,38],[14,41],[11,44],[16,47],[18,52],[10,56],[15,60],[13,64],[17,72],[12,79],[19,33],[14,12],[16,24],[18,43],[11,37],
[21,3],[25,8],[28,12],[23,16],[26,19],[20,22],[29,25],[24,28],[22,31],[27,33],[21,36],[25,39],[28,41],[23,44],[26,47],[20,50],[29,53],[24,56],[22,59],[27,62],[21,66],[25,70],[28,76],[23,83],[26,90],[20,27],[29,46],[24,35],[22,20],[27,14],
[32,4],[36,10],[30,15],[38,20],[34,24],[31,28],[37,31],[33,34],[39,37],[35,40],[30,43],[36,46],[32,48],[38,51],[34,54],[31,57],[37,60],[33,63],[39,66],[35,69],[30,73],[36,77],[32,82],[38,88],[34,95],[31,50],[37,42],[33,27],[39,56],[35,62],
[41,6],[45,13],[48,19],[43,24],[47,29],[40,33],[44,37],[49,41],[42,44],[46,47],[41,50],[45,53],[48,56],[43,59],[47,62],[40,65],[44,68],[49,71],[42,74],[46,78],[41,82],[45,87],[48,93],[43,52],[47,58],[40,45],[44,63],[49,66],[42,38],[46,70],
[52,8],[56,16],[50,23],[58,29],[54,34],[51,38],[57,42],[53,46],[59,50],[55,53],[50,56],[56,59],[52,62],[58,65],[54,68],[51,71],[57,74],[53,77],[59,80],[55,84],[50,89],[56,94],[52,57],[58,61],[54,48],[51,64],[57,70],[53,52],[59,73],[55,67],
[62,12],[66,22],[60,30],[68,36],[64,41],[61,45],[67,49],[63,53],[69,57],[65,60],[60,63],[66,66],[62,69],[68,72],[64,75],[61,78],[67,81],[63,84],[69,87],[65,90],[60,94],[66,98],[62,56],[68,64],[64,70],[61,59],[67,76],[63,68],[69,80],[65,73],
[76,6],[72,18],[78,30],[74,40],[70,47],[77,53],[73,58],[79,62],[75,66],[71,69],[76,72],[72,75],[78,78],[74,81],[70,84],[77,86],[73,88],[79,91],[75,93],[71,95],[76,97],[72,99],[78,84],[74,70],[70,77],[77,65],[73,90],[79,87],[75,76],[71,60],
[82,14],[88,28],[85,40],[81,50],[87,58],[83,64],[89,69],[84,73],[80,77],[86,80],[82,83],[88,85],[85,87],[81,89],[87,91],[83,92],[89,94],[84,95],[80,96],[86,97],[82,98],[88,99],[85,93],[81,86],[87,79],[83,71],[89,88],[84,100],[86,90],[88,94],
[96,20],[92,35],[98,48],[94,58],[91,65],[97,71],[93,76],[99,80],[95,83],[90,86],[98,88],[94,90],[96,91],[92,92],[99,93],[97,94],[93,95],[100,96],[95,97],[98,98],[91,99],[99,100],[96,100],[100,94],[97,89],[94,97],[100,85],[98,78],[92,97],[95,93],
[1,2],[0,5],[3,1],[2,8],[5,4],[1,12],[4,10],[6,1],[0,15],[3,14],[7,6],[2,18],[5,16],[8,3],[1,24],[4,22],[6,20],[9,10],[0,28],[3,25],[7,17],[2,31],[5,29],[8,23],[1,36],[4,33],[6,40],[9,19],[0,45],[3,49],[7,44],[2,55],[5,63],[8,35],
[10,4],[13,3],[16,8],[19,5],[11,12],[14,15],[17,11],[12,19],[15,22],[18,19],[10,26],[13,24],[16,28],[19,27],[11,31],[14,34],[17,36],[12,40],[15,38],[18,45],[10,48],[13,51],[16,54],[19,49],[11,59],[14,66],[17,61],[12,70],[15,45],[18,30],[10,18],[13,9],
[20,6],[23,12],[26,15],[29,18],[21,25],[24,22],[27,28],[22,33],[25,31],[28,37],[20,39],[23,42],[26,38],[29,45],[21,48],[24,50],[27,52],[22,55],[25,58],[28,57],[20,61],[23,64],[26,67],[29,72],[21,76],[24,80],[27,10],[22,24],[25,46],[28,30],
[30,9],[33,18],[36,23],[39,28],[31,33],[34,37],[37,40],[32,44],[35,47],[38,49],[30,52],[33,55],[36,58],[39,61],[31,64],[34,67],[37,70],[32,73],[35,78],[38,84],[30,38],[33,41],[36,52],[39,45],[31,58],[34,91],[37,33],[32,13],
[40,11],[43,20],[46,27],[49,33],[41,38],[44,42],[47,46],[42,49],[45,52],[48,54],[40,57],[43,60],[46,63],[49,66],[41,69],[44,72],[47,75],[42,78],[45,84],[48,89],[40,50],[43,66],[46,54],[49,48],[41,44],[44,58],[47,31],[42,97],
[50,13],[53,27],[56,32],[59,39],[51,44],[54,49],[57,53],[52,56],[55,58],[58,62],[50,64],[53,67],[56,70],[59,72],[51,75],[54,78],[57,82],[52,86],[55,91],[58,95],[50,60],[53,40],[56,61],[59,84],[51,50],[54,66],[57,77],[52,20],
[60,19],[63,35],[66,42],[69,48],[61,53],[64,57],[67,61],[62,64],[65,66],[68,69],[60,71],[63,74],[66,77],[69,80],[61,83],[64,86],[67,89],[62,92],[65,95],[68,98],[60,65],[63,61],[66,84],[69,74],[61,70],[64,79],[67,55],[62,27],
[70,23],[73,37],[76,47],[79,55],[71,62],[74,66],[77,69],[72,72],[75,74],[78,77],[70,79],[73,81],[76,83],[79,85],[71,87],[74,89],[77,91],[72,93],[75,95],[78,97],[70,99],[73,92],[76,86],[79,80],[71,75],[74,60],[77,96],[72,84],[75,52],[78,89],
[80,24],[83,44],[86,55],[89,62],[81,67],[84,71],[87,75],[82,78],[85,81],[88,83],[80,85],[83,87],[86,89],[89,90],[81,92],[84,93],[87,95],[82,96],[85,97],[88,98],[80,99],[83,100],[86,92],[89,86],[81,77],[84,82],[87,99],[82,91],[85,65],[88,89],[80,88],[86,96],
[90,38],[93,52],[96,63],[99,70],[91,76],[94,80],[97,83],[92,86],[95,88],[98,90],[90,91],[93,92],[96,94],[99,95],[91,95],[94,96],[97,97],[100,98],[92,98],[95,99],[98,100],[90,100],[93,97],[96,98],[99,99],[100,91],[91,82],[94,93],[97,87],[100,100],[92,90],[95,95],[98,93],[99,88],
[0,3],[1,10],[2,5],[3,17],[4,7],[5,1],[6,13],[7,23],[8,8],[9,16],[0,20],[1,27],[2,22],[3,9],[4,30],[5,19],[6,35],[7,12],[8,28],[9,41],[10,7],[11,18],[12,4],[13,29],[14,21],[15,13],[16,37],[17,25],[18,9],[19,34],[10,40],[11,50],[12,28],[13,45],[14,32],[15,55],[16,16],[17,43],[18,60],[19,22],[20,10],[21,31],[22,17],[23,48],[24,39],[25,23],[26,58],[27,41],[28,27],[29,63],[20,52],[22,67],[24,14],[26,44],[28,70],[21,42],[23,29],[25,63],[27,56],[29,36],[0,33],[2,49],[4,44],[6,54],[8,62],[10,66],[12,58],[14,73],[16,68],[18,51],
[30,26],[31,45],[32,38],[33,60],[34,44],[35,32],[36,67],[37,53],[38,41],[39,72],[40,47],[41,60],[42,30],[43,71],[44,53],[45,40],[46,77],[47,55],[48,63],[49,44],[50,51],[51,68],[52,40],[53,74],[54,58],[55,47],[56,80],[57,63],[58,50],[59,77],[60,58],[61,75],[62,46],[63,82],[64,65],[65,53],[66,87],[67,71],[68,60],[69,85],[30,60],[32,22],[34,76],[36,35],[38,62],[40,26],[42,84],[44,34],[46,59],[48,81],[50,35],[52,65],[54,86],[56,52],[58,73],[60,45],[62,90],[64,68],[66,55],[68,92],[31,14],[35,85],[39,22],[43,88],[47,24],[51,92],[55,30],[59,88],[63,39],[67,94],[33,50],[37,73],[41,36],[45,66],[49,58],[53,48],[57,89],[61,66],[65,78],[69,70],[34,6],[44,14],[54,19],[64,33],[38,96],[48,99],[58,97],[46,8],[56,10],[66,29],
[70,67],[71,84],[72,76],[73,94],[74,73],[75,88],[76,79],[77,98],[78,70],[79,90],[80,81],[81,94],[82,86],[83,78],[84,97],[85,89],[86,83],[87,93],[88,79],[89,98],[90,88],[91,92],[92,80],[93,97],[94,86],[95,91],[96,83],[97,99],[98,87],[99,94],[100,90],[70,91],[72,58],[74,95],[76,69],[78,93],[80,72],[82,99],[84,80],[86,94],[88,87],[90,96],[92,89],[94,100],[96,95],[98,94],[100,97],[71,72],[73,66],[75,97],[77,83],[79,76],[81,86],[83,91],[85,75],[87,100],[89,83],[91,89],[93,91],[95,84],[97,93],[99,98],[100,88],[89,73],[93,70],[97,76],[99,64],[100,79],[91,55],[95,61],[87,66],[83,57],[79,48],[75,44],[71,39],[85,52],[81,61],[77,54],[73,50],[98,96],
[88,18],[95,30],[80,35],[91,10],[5,82],[12,86],[3,73],[24,88],[99,42],[76,25]
];
const panelTitles = ['Gaussian (ρ=0.65)', 't (ρ=0.65, ν=3)', 'Clayton (θ=2)', 'Gumbel (θ=2)', 'Frank (θ=5)'];
const panelColors = ['#2166AC', '#D95B2B', '#1B9E77', '#B8731A', '#8C8C8C'];
const tickValues = [0, 0.25, 0.5, 0.75, 1];
const panelData = [gaussian, tCopula, clayton, gumbel, frank];

const FONT = '"Liberation Sans", Arial, Helvetica, sans-serif';
const PANEL_LEFT = 140, PANEL_STEP = 548.5, PANEL_W = 530, PANEL_TOP = 177, PANEL_H = 902;

function rgba(hex, a) {
  const n = parseInt(hex.slice(1), 16);
  return 'rgba(' + ((n >> 16) & 255) + ',' + ((n >> 8) & 255) + ',' + (n & 255) + ',' + a + ')';
}
function isMajor(v) {
  return tickValues.some(t => Math.abs(t - v) < 1e-6);
}
function axisCfg(showLabels, isY) {
  return {
    type: 'value', min: -0.05, max: 1.05, interval: 0.05,
    axisLine: { show: false }, axisTick: { show: false },
    axisLabel: {
      show: showLabels, fontSize: 28, color: '#4D4D4D', fontFamily: FONT,
      margin: isY ? 16 : 12,
      formatter: v => isMajor(v) ? v.toFixed(2) : ''
    },
    splitLine: { show: true, lineStyle: { width: 3, color: ['rgba(0,0,0,0)', '#EBEBEB', 'rgba(0,0,0,0)', 'rgba(0,0,0,0)', 'rgba(0,0,0,0)'] } }
  };
}

const grids = [], xAxes = [], yAxes = [], series = [], graphics = [];
panelData.forEach((pts, i) => {
  const left = PANEL_LEFT + i * PANEL_STEP;
  grids.push({ left: left, top: PANEL_TOP, width: PANEL_W, height: PANEL_H });
  xAxes.push(Object.assign({ gridIndex: i }, axisCfg(true, false)));
  yAxes.push(Object.assign({ gridIndex: i }, axisCfg(i === 0, true)));
  series.push({
    type: 'scatter', xAxisIndex: i, yAxisIndex: i,
    data: pts.map(p => [p[0] / 100, p[1] / 100]),
    symbol: 'circle', symbolSize: 9, silent: true, progressive: 0,
    itemStyle: { color: rgba(panelColors[i], 0.68), borderColor: rgba(panelColors[i], 0.68), borderWidth: 1.4 }
  });
  graphics.push({
    type: 'text', x: left + PANEL_W / 2, y: 152,
    style: { text: panelTitles[i], font: 'bold 25px ' + FONT, fill: '#1A1A1A', textAlign: 'center', textVerticalAlign: 'middle' }
  });
});

graphics.push(
  { type: 'text', x: 140, y: 34, style: { text: 'Copula samples in the unit square (uniform marginals)', font: 'bold 38px ' + FONT, fill: '#000', textAlign: 'left', textVerticalAlign: 'middle' } },
  { type: 'text', x: 140, y: 86, style: { text: 'Lower-left clustering = lower tail dep. | Upper-right clustering = upper tail dep.', font: '32px ' + FONT, fill: '#666666', textAlign: 'left', textVerticalAlign: 'middle' } },
  { type: 'text', x: 1499, y: 1150, style: { text: 'u', font: '32px ' + FONT, fill: '#000', textAlign: 'center', textVerticalAlign: 'middle' } },
  { type: 'text', x: 1516, y: 1161, style: { text: '1', font: '22px ' + FONT, fill: '#000', textAlign: 'center', textVerticalAlign: 'middle' } },
  { type: 'text', x: 31, y: 637, rotation: Math.PI / 2, style: { text: 'u', font: '32px ' + FONT, fill: '#000', textAlign: 'center', textVerticalAlign: 'middle' } },
  { type: 'text', x: 42, y: 620, rotation: Math.PI / 2, style: { text: '2', font: '22px ' + FONT, fill: '#000', textAlign: 'center', textVerticalAlign: 'middle' } }
);

const chart = echarts.init(document.getElementById('c'), null, { renderer: 'canvas', width: 2880, height: 1190 });
chart.setOption({
  animation: false,
  backgroundColor: '#FFFFFF',
  textStyle: { fontFamily: FONT },
  grid: grids, xAxis: xAxes, yAxis: yAxes, series: series, graphic: graphics
});
</script></body></html>
